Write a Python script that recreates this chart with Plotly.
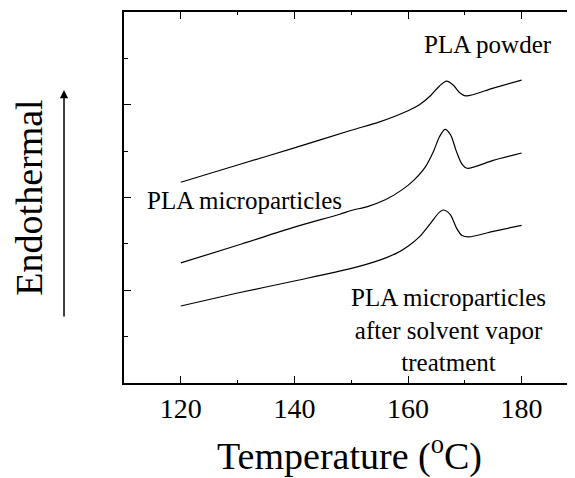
import plotly.graph_objects as go

# Temperature (deg C) and heat-flow (arbitrary, offset) readings for each DSC trace
powder_t = [120, 130, 140, 150, 155, 160, 162, 164, 165.5, 166.8, 168, 169, 170.2, 175, 180]
powder_h = [4.33, 4.70, 5.07, 5.45, 5.63, 5.87, 6.00, 6.20, 6.40, 6.51, 6.42, 6.27, 6.19, 6.36, 6.53]

micro_t = [120, 130, 140, 148, 150, 153, 156, 159, 161, 163, 164.5, 165.5, 166.5, 167.5, 168.5, 169.5, 170.4, 175, 180]
micro_h = [2.59, 2.97, 3.36, 3.64, 3.72, 3.81, 3.95, 4.17, 4.37, 4.65, 5.00, 5.30, 5.47, 5.35, 5.00, 4.72, 4.63, 4.80, 4.96]

treated_t = [120, 130, 140, 150, 155, 158, 160, 162, 164, 165.5, 166.3, 167.5, 168.5, 169.5, 170.7, 175, 180]
treated_h = [1.66, 1.94, 2.20, 2.47, 2.65, 2.80, 2.95, 3.15, 3.45, 3.68, 3.73, 3.62, 3.35, 3.18, 3.15, 3.27, 3.40]

x_ticks = [120, 140, 160, 180]
x_tick_labels = ["120", "140", "160", "180"]

labels = ["PLA powder", "PLA microparticles",
          "PLA microparticles<br>after solvent vapor<br>treatment"]

fig = go.Figure()
for t, h, name in [(powder_t, powder_h, labels[0]),
                   (micro_t, micro_h, "PLA microparticles"),
                   (treated_t, treated_h, "PLA microparticles after solvent vapor treatment")]:
    fig.add_trace(go.Scatter(x=t, y=h, mode="lines", name=name,
                             line=dict(color="black", width=1.2, shape="spline", smoothing=0.8),
                             showlegend=False))

ann_font = dict(family="Liberation Serif", size=25, color="black")
fig.add_annotation(x=174.0, y=7.3, xref="x", yref="y", text=labels[0],
                   showarrow=False, font=ann_font)
fig.add_annotation(x=131.2, y=3.94, xref="x", yref="y", text=labels[1],
                   showarrow=False, font=ann_font)
fig.add_annotation(x=167.2, y=1.14, xref="x", yref="y", text=labels[2],
                   showarrow=False, font=ann_font, align="center")

# Endothermal direction arrow
fig.add_annotation(x=-0.133, y=0.79, xref="paper", yref="paper", ax=0, ay=228,
                   axref="pixel", ayref="pixel", text="", showarrow=True,
                   arrowhead=2, arrowsize=1.1, arrowwidth=1.5, arrowcolor="black")

# page body adds an 8px offset; size the figure so the plot lands where the reference has it
fig.update_layout(
    width=567, height=470,
    margin=dict(l=116, r=0, t=4, b=95),
    paper_bgcolor="white", plot_bgcolor="white",
    font=dict(family="Liberation Serif", color="black"),
)
fig.update_xaxes(
    range=[110, 189.4], showgrid=False, zeroline=False,
    showline=True, linecolor="black", linewidth=1.5, mirror="allticks",
    tickmode="array", tickvals=x_ticks, ticktext=x_tick_labels,
    ticks="inside", ticklen=7, tickwidth=1, tickcolor="black",
    tickfont=dict(family="Liberation Serif", size=28, color="black"),
    minor=dict(dtick=10, tick0=110, ticks="inside", ticklen=3, tickwidth=1, tickcolor="black", showgrid=False),
    title=dict(text="Temperature (<sup>o</sup>C)", standoff=20,
               font=dict(family="Liberation Serif", size=38, color="black")),
)
fig.update_yaxes(
    range=[0, 8], showgrid=False, zeroline=False,
    showline=True, linecolor="black", linewidth=1.5,
    tickmode="array", tickvals=[2, 4, 6], showticklabels=False,
    ticks="inside", ticklen=7, tickwidth=1, tickcolor="black",
    minor=dict(tickvals=[1, 3, 5, 7], ticks="inside", ticklen=4, tickwidth=1, tickcolor="black", showgrid=False),
    title=dict(text="Endothermal", standoff=72,
               font=dict(family="Liberation Serif", size=38, color="black")),
)

fig.write_html("out.html")
